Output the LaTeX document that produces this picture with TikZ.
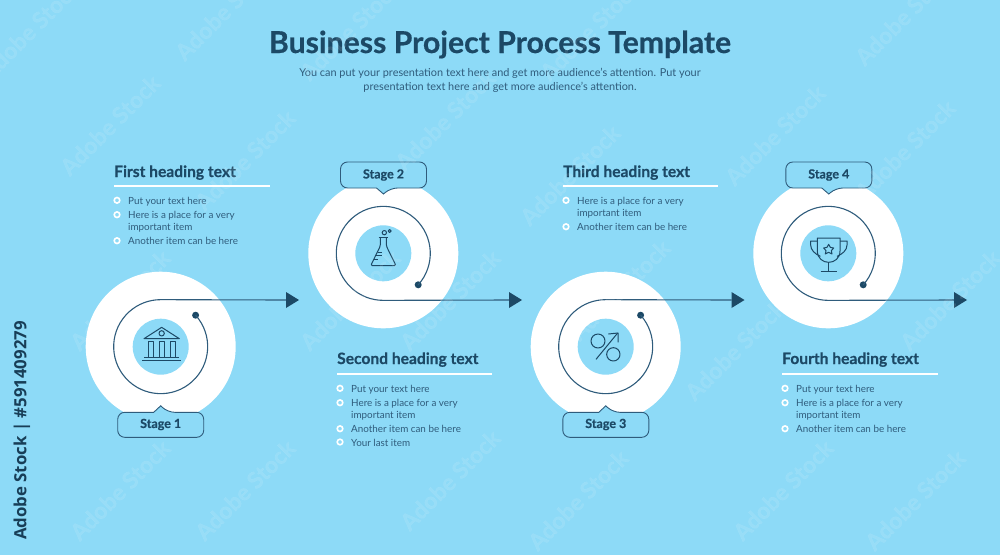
\documentclass[tikz,border=0pt]{standalone}
\usepackage{fontspec}
\setmainfont[BoldFeatures={FakeBold=0.5}]{Lato}
\newfontfamily\sidefont{Open Sans}
\usetikzlibrary{arrows.meta,shapes.geometric}
\definecolor{bgblue}{HTML}{8DDAF7}
\definecolor{ink}{HTML}{1C4966}
\definecolor{soft}{HTML}{2F5C7C}
\tikzset{
  disc/.style={circle,fill=white,inner sep=0,minimum size=150pt},
  hole/.style={circle,fill=bgblue,inner sep=0,minimum size=56pt},
  enddot/.style={circle,fill=ink,inner sep=0,minimum size=7pt},
  route/.style={draw=soft,line width=1.1pt},
  tiphead/.style={fill=ink,draw=none},
  stagetext/.style={font=\fontsize{12.5}{14}\selectfont\bfseries,text=ink,inner sep=0},
  bubble/.style={draw=soft,line width=0.9pt,fill=bgblue,rounded corners=7pt},
  headtext/.style={anchor=base west,inner sep=0,font=\fontsize{15.6}{17}\selectfont\bfseries,text=ink},
  headrule/.style={draw=white,line width=1.8pt},
  itemtext/.style={anchor=base west,yshift=-0.5pt,inner sep=0,font=\fontsize{9.85}{12}\selectfont,text=soft},
  itemdot/.style={circle,draw=white,line width=1.6pt,fill=bgblue,inner sep=0,minimum size=5.6pt},
  iconline/.style={draw=ink,line width=1pt,line join=round},
  wm/.style={rotate=45,text=white,opacity=0.10,font=\fontsize{23}{25}\selectfont\bfseries,inner sep=0},
}
\newcommand{\headblock}[3]{\node[headtext] at (#1,#2) {#3};}
\newcommand{\itemline}[3]{\node[itemtext] at (#1,#2) {#3};}
\begin{document}
\begin{tikzpicture}[x=1pt,y=1pt,yscale=-1]
\useasboundingbox (0,0) rectangle (1000,555);
\fill[bgblue] (0,0) rectangle (1000,555);

% title
\node[inner sep=0,font=\fontsize{30.2}{32}\selectfont\bfseries,text=ink] (title) at (500,44.5) {Business Project Process Template};
\node[inner sep=0,font=\fontsize{10.9}{14}\selectfont,text=soft,align=center] (sub) at (500,80.5) {You can put your presentation text here and get more audience's attention. Put your\\presentation text here and get more audience's attention.};

% discs
\node[disc] (d1) at (160.7,346.7) {};
\node[disc] (d2) at (383.3,253.3) {};
\node[disc] (d3) at (605.7,346.7) {};
\node[disc] (d4) at (828.3,253.3) {};
\foreach \n in {1,2,3,4} \node[hole] (h\n) at (d\n) {};

% dots and tips
\node[enddot] (s1) at (195.6,315.2) {};
\node[enddot] (s2) at (418.2,284.8) {};
\node[enddot] (s3) at (640.6,315.2) {};
\node[enddot] (s4) at (863.2,284.8) {};
\coordinate (t1) at (286,300);
\coordinate (t2) at (509,300);
\coordinate (t3) at (731.5,300);
\coordinate (t4) at (954,300);

% routes
\draw[route] (s1.center) arc[start angle=-42,end angle=270,radius=47pt] -- (t1);
\draw[route] (s3.center) arc[start angle=-42,end angle=270,radius=47pt] -- (t3);
\draw[route] (s2.center) arc[start angle=42,end angle=-270,radius=47pt] -- (t2);
\draw[route] (s4.center) arc[start angle=42,end angle=-270,radius=47pt] -- (t4);
\foreach \n in {1,2,3,4} \fill[tiphead] (t\n) ++(0,-8) -- ++(13,8) -- ++(-13,8) -- cycle;

% stage bubbles
\newcommand{\bubdown}[3]{%
  \draw[bubble] (#1-43,#2) -- (#1+43,#2) -- (#1+43,#2+26) -- (#1+7,#2+26) [sharp corners] -- (#1,#2+32) -- (#1-7,#2+26) [rounded corners=7pt] -- (#1-43,#2+26) -- cycle;
}
\newcommand{\bubup}[3]{%
  \draw[bubble] (#1-43,#2+25) -- (#1+43,#2+25) -- (#1+43,#2) -- (#1+7,#2) [sharp corners] -- (#1,#2-6.5) -- (#1-7,#2) [rounded corners=7pt] -- (#1-43,#2) -- cycle;
}
\bubup{160.7}{412.3}{}
\bubdown{383.5}{162}{}
\bubup{605.8}{412.3}{}
\bubdown{828.8}{162}{}
\node[stagetext] (b1) at (160.7,424.5) {Stage 1};
\node[stagetext] (b2) at (383.5,175) {Stage 2};
\node[stagetext] (b3) at (605.8,424.5) {Stage 3};
\node[stagetext] (b4) at (828.8,175) {Stage 4};

% bank icon
\begin{scope}[shift={(70,260)},scale=1/3]
\draw[iconline] (222,236) -- (275,202) -- (328,236) -- cycle;
\draw[iconline] (275,220) circle (8);
\foreach \c in {242,275,308} \draw[iconline] (\c-7,243) rectangle (\c+7,291);
\draw[iconline] (222,293) -- (328,293);
\draw[iconline,line width=1.3pt] (216,301) -- (333,301);
\end{scope}

% flask icon
\begin{scope}[shift={(300,150)},scale=1/3]
\draw[iconline] (236,262) -- (264,262);
\draw[iconline,rounded corners=1.5pt] (241,262) -- (241,288) -- (212,347) -- (288,347) -- (259,288) -- (259,262);
\draw[iconline] (233,306) -- (245,306) (227,317) -- (245,317) (222,328) -- (235,328);
\draw[iconline] (253,248) circle (6.5);
\draw[iconline] (269,243) circle (4.5);
\end{scope}

% percent icon
\begin{scope}[shift={(525,260)},scale=1/3]
\draw[iconline] (219,243) circle (21);
\draw[iconline] (265,283) circle (20);
\draw[iconline] (213,298) -- (278,219);
\draw[iconline] (250,222) -- (279,219) -- (279,247);
\end{scope}

% trophy icon
\begin{scope}[shift={(745,150)},scale=1/3]
\draw[iconline] (217,264) -- (285,264) -- (285,303) .. controls (285,325) and (268,337) .. (251,337) .. controls (234,337) and (217,325) .. (217,303) -- cycle;
\draw[iconline] (217,273) -- (197,273) -- (197,285) .. controls (197,300) and (210,312) .. (226,319);
\draw[iconline] (285,273) -- (306,273) -- (306,285) .. controls (306,300) and (293,312) .. (276,319);
\draw[iconline] (251,337) -- (251,362);
\draw[iconline] (227,363) -- (275,363);
\draw[iconline] (251,283) -- (256,292) -- (266,294) -- (259,302) -- (261,312) -- (251,307) -- (241,312) -- (243,302) -- (236,294) -- (246,292) -- cycle;
\end{scope}

% column 1
\headblock{114}{177}{First heading text}
\draw[headrule] (114,186) -- (270,186);
\foreach \y in {200.3,214.7,240.7} \node[itemdot] at (117,\y) {};
\itemline{128}{203.8}{Put your text here}
\itemline{128}{218.2}{Here is a place for a very}
\itemline{128}{230.2}{important item}
\itemline{128}{244.2}{Another item can be here}

% column 2
\headblock{337}{364}{Second heading text}
\draw[headrule] (337,374) -- (492,374);
\foreach \y in {388.3,402.7,428.7,442} \node[itemdot] at (340,\y) {};
\itemline{351}{391.8}{Put your text here}
\itemline{351}{406.2}{Here is a place for a very}
\itemline{351}{418.2}{important item}
\itemline{351}{432.2}{Another item can be here}
\itemline{351}{445.6}{Your last item}

% column 3
\headblock{563}{177}{Third heading text}
\draw[headrule] (563,186) -- (718,186);
\foreach \y in {200.3,226.7} \node[itemdot] at (566,\y) {};
\itemline{577}{203.8}{Here is a place for a very}
\itemline{577}{215.8}{important item}
\itemline{577}{230.2}{Another item can be here}

% column 4
\headblock{782}{364}{Fourth heading text}
\draw[headrule] (782,374) -- (938,374);
\foreach \y in {388.3,402.7,428.7} \node[itemdot] at (785,\y) {};
\itemline{796}{391.8}{Put your text here}
\itemline{796}{406.2}{Here is a place for a very}
\itemline{796}{418.2}{important item}
\itemline{796}{432.2}{Another item can be here}

% faint stock marks
\foreach \x/\y in {110/125,245/160,350/30,445/120,570/175,775/135,905/150,905/15,590/30,225/10,30/30,245/490,450/480,578/500,783/490,915/500,120/490,120/300,350/300,620/290,735/350,950/300,450/300}
  \node[wm] at (\x,\y) {Adobe Stock};

% side label
\node[rotate=90,anchor=west,inner sep=0,font=\sidefont\fontsize{16.8}{20}\selectfont\bfseries,text=ink!85!black] (side) at (22,540) {Adobe Stock | \#591409279};
\end{tikzpicture}
\end{document}
